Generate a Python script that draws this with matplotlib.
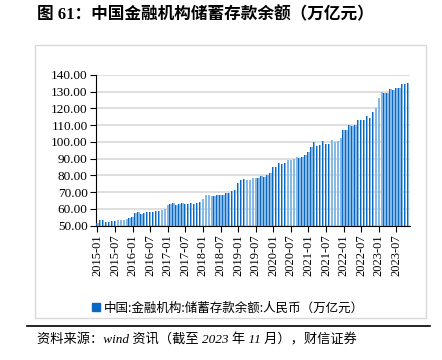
import numpy as np
import pandas as pd
import matplotlib
matplotlib.use('Agg')
import matplotlib.pyplot as plt
from matplotlib.patches import Patch, Rectangle
from matplotlib.lines import Line2D

plt.rcParams['font.family'] = ['Liberation Serif', 'Noto Sans CJK SC', 'DejaVu Sans']

# 储蓄存款余额（万亿元），2015-01 ~ 2023-11
v2015 = [51.5, 53.2, 53.6, 52.4, 52.4, 53.1, 53.1, 53.2, 53.6, 53.6, 54.0, 54.6]
v2016 = [55.5, 57.6, 58.2, 57.0, 57.4, 58.2, 58.0, 58.4, 59.0, 59.0, 59.4, 60.0]
v2017 = [62.6, 63.2, 63.8, 62.6, 62.8, 63.4, 62.8, 63.2, 63.8, 63.2, 63.5, 64.2]
v2018 = [65.8, 68.4, 68.4, 67.6, 67.6, 68.3, 68.2, 68.4, 69.7, 69.7, 70.6, 71.1]
v2019 = [75.3, 77.3, 77.9, 77.3, 77.3, 78.3, 78.3, 78.3, 79.7, 79.3, 80.3, 81.3]
v2020 = [85.3, 85.0, 87.7, 87.0, 87.2, 89.3, 89.0, 89.7, 91.0, 90.4, 91.0, 92.4]
v2021 = [93.7, 96.9, 99.7, 97.3, 98.0, 100.3, 99.0, 99.0, 101.0, 99.7, 100.3, 102.3]
v2022 = [107.3, 107.3, 110.3, 109.7, 110.3, 112.9, 112.9, 113.3, 115.3, 114.3, 117.7, 120.3]
v2023 = [126.4, 129.8, 129.4, 129.4, 131.8, 131.1, 132.4, 132.4, 134.4, 134.4, 135.0]

values = v2015 + v2016 + v2017 + v2018 + v2019 + v2020 + v2021 + v2022 + v2023
months = pd.date_range('2015-01', periods=len(values), freq='MS').strftime('%Y-%m').tolist()

fig = plt.figure(figsize=(4.42, 3.6), dpi=100)
ax = fig.add_axes([0.217, 0.373, 0.711, 0.419])

x = np.arange(len(values))
ax.bar(x, np.array(values) - 50, bottom=50, width=0.8, color='#86b9e6', zorder=2)
ax.bar(x - 0.4, np.array(values) - 50, bottom=50, width=0.25, align='edge',
       color='#0a68c2', zorder=3)

ax.set_ylim(50, 140)
ax.set_xlim(-0.5, len(values) - 0.3)
ax.set_yticks(np.arange(50, 141, 10))
ax.set_yticklabels(['%.2f' % t for t in np.arange(50, 141, 10)], fontsize=9.5)
ax.set_xticks(x[::6])
ax.set_xticklabels(months[::6], rotation=90, fontsize=9)
ax.yaxis.grid(True, color='#d9d9d9', linewidth=1.2)
ax.set_axisbelow(True)
for s in ['top', 'right']:
    ax.spines[s].set_visible(False)
ax.spines['left'].set_color('black')
ax.spines['bottom'].set_color('black')
ax.tick_params(axis='both', direction='out', length=4, width=0.8, colors='black', pad=2)

ax.legend([Patch(color='#0a68c2')], ['中国:金融机构:储蓄存款余额:人民币（万亿元）'],
          loc='center', bbox_to_anchor=(0.516, 0.145), bbox_transform=fig.transFigure,
          frameon=False, handlelength=0.6, handleheight=0.6, handletextpad=0.3,
          prop={'family': ['Noto Sans CJK SC'], 'size': 9})

# 图表外框
fig.patches.append(Rectangle((0.08, 0.117), 0.883, 0.758, transform=fig.transFigure,
                             fill=False, edgecolor='#d9d9d9', linewidth=1))

fig.text(0.084, 0.958, '图 61：中国金融机构储蓄存款余额（万亿元）', fontsize=12,
         fontweight='bold', va='center', ha='left')
fig.lines.append(Line2D([0.062, 0.973], [0.094, 0.094], transform=fig.transFigure,
                        color='black', linewidth=1.2))
fig.text(0.084, 0.055, '资料来源：wind 资讯（截至 2023 年 11 月），财信证券', fontsize=9.5,
         style='italic', va='center', ha='left')

plt.savefig('out.png', dpi=100)
